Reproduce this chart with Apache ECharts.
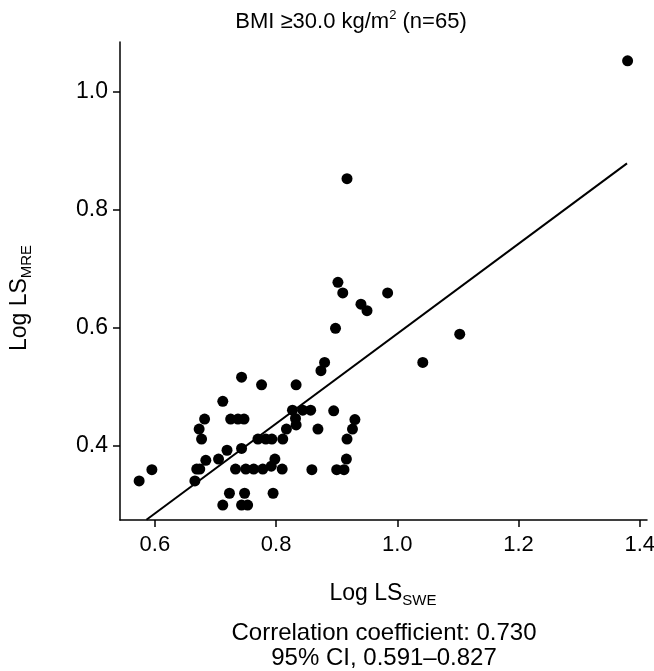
<!DOCTYPE html>
<html><head><meta charset="utf-8">
<script src="https://cdn.jsdelivr.net/npm/echarts@6/dist/echarts.min.js"></script>
<style>html,body{margin:0;padding:0;background:#fff}#c{width:654px;height:671px}</style>
</head><body><div id="c"></div>
<script>
const sweX = [0.574,0.595,0.666,0.669,0.674,0.673,0.677,0.682,0.684,0.705,
  0.712,0.719,0.712,0.723,0.725,0.737,0.747,0.733,0.743,0.743,
  0.743,0.753,0.748,0.750,0.763,0.778,0.770,0.783,0.793,0.776,
  0.792,0.798,0.795,0.810,0.811,0.817,0.827,0.832,0.833,0.833,
  0.844,0.857,0.859,0.869,0.874,0.880,0.895,0.898,0.900,0.912,
  0.902,0.910,0.916,0.917,0.926,0.930,0.917,0.940,0.950,0.984,
  1.042,1.103,1.380];
const mreY = [0.340,0.359,0.340,0.360,0.360,0.428,0.411,0.445,0.375,0.377,
  0.475,0.392,0.299,0.319,0.445,0.445,0.445,0.360,0.395,0.516,
  0.299,0.299,0.319,0.360,0.360,0.360,0.411,0.411,0.411,0.503,
  0.365,0.377,0.319,0.360,0.411,0.428,0.460,0.446,0.435,0.503,
  0.460,0.460,0.359,0.428,0.527,0.541,0.459,0.599,0.359,0.359,
  0.677,0.659,0.377,0.411,0.428,0.444,0.853,0.640,0.629,0.659,
  0.541,0.589,1.053];
const fitX = [0.586, 1.379];
const fitY = [0.274, 0.879];
const xTicks = [0.6, 0.8, 1.0, 1.2, 1.4];
const yTicks = [0.4, 0.6, 0.8, 1.0];
const xRange = [0.5424, 1.412];
const yRange = [0.2736, 1.085];
const titleMain = 'BMI ≥30.0 kg/m';
const titleSup = '2';
const titleEnd = ' (n=65)';
const xName = 'Log LS', xSub = 'SWE';
const yName = 'Log LS', ySub = 'MRE';
const note1 = 'Correlation coefficient: 0.730';
const note2 = '95% CI, 0.591–0.827';

const FONT = '"Liberation Sans", Arial, Helvetica, sans-serif';
const INK = '#000';
const chart = echarts.init(document.getElementById('c'), null, {renderer: 'canvas'});
const pts = sweX.map((x, i) => [x, mreY[i]]);
const fit = fitX.map((x, i) => [x, fitY[i]]);
const axisCommon = {
  type: 'value',
  splitLine: {show: false},
  axisLine: {show: true, onZero: false, lineStyle: {color: INK, width: 1.5}},
  axisTick: {show: true, length: 7, lineStyle: {color: INK, width: 1.5}},
};
chart.setOption({
  animation: false,
  backgroundColor: '#fff',
  grid: {left: 120, right: 7, top: 42, bottom: 151, containLabel: false, outerBoundsMode: 'none'},
  xAxis: Object.assign({}, axisCommon, {
    min: xRange[0], max: xRange[1],
    axisTick: Object.assign({}, axisCommon.axisTick, {customValues: xTicks}),
    axisLabel: {customValues: xTicks, formatter: v => v.toFixed(1), fontSize: 22, color: INK, fontFamily: FONT, margin: 14}
  }),
  yAxis: Object.assign({}, axisCommon, {
    min: yRange[0], max: yRange[1],
    axisTick: Object.assign({}, axisCommon.axisTick, {customValues: yTicks}),
    axisLabel: {customValues: yTicks, formatter: v => v.toFixed(1), fontSize: 23, color: INK, fontFamily: FONT, margin: 12}
  }),
  series: [
    {type: 'line', data: fit, symbol: 'none', lineStyle: {color: INK, width: 2}, z: 2},
    {type: 'scatter', data: pts, symbol: 'circle', symbolSize: 11, itemStyle: {color: '#000', opacity: 1}, z: 3}
  ],
  graphic: [
    {type: 'text', x: 351, y: 22, style: {
      text: '{a|' + titleMain + '}{s|' + titleSup + '}{a|' + titleEnd + '}',
      align: 'center', verticalAlign: 'middle',
      rich: {a: {fontSize: 22, fontFamily: FONT, fill: INK, lineHeight: 26},
             s: {fontSize: 13, fontFamily: FONT, fill: INK, lineHeight: 14, verticalAlign: 'top'}}
    }},
    {type: 'text', x: 383, y: 594, style: {
      text: '{a|' + xName + '}{b|' + xSub + '}',
      align: 'center', verticalAlign: 'middle',
      rich: {a: {fontSize: 23, fontFamily: FONT, fill: INK, lineHeight: 28},
             b: {fontSize: 15, fontFamily: FONT, fill: INK, lineHeight: 18, verticalAlign: 'bottom'}}
    }},
    {type: 'text', x: 20, y: 298, rotation: Math.PI / 2, style: {
      text: '{a|' + yName + '}{b|' + ySub + '}',
      align: 'center', verticalAlign: 'middle',
      rich: {a: {fontSize: 23, fontFamily: FONT, fill: INK, lineHeight: 28},
             b: {fontSize: 15, fontFamily: FONT, fill: INK, lineHeight: 18, verticalAlign: 'bottom'}}
    }},
    {type: 'text', x: 384, y: 633, style: {text: note1, align: 'center', verticalAlign: 'middle', fontSize: 24, fontFamily: FONT, fill: INK}},
    {type: 'text', x: 384, y: 658, style: {text: note2, align: 'center', verticalAlign: 'middle', fontSize: 24, fontFamily: FONT, fill: INK}}
  ]
});
</script></body></html>
